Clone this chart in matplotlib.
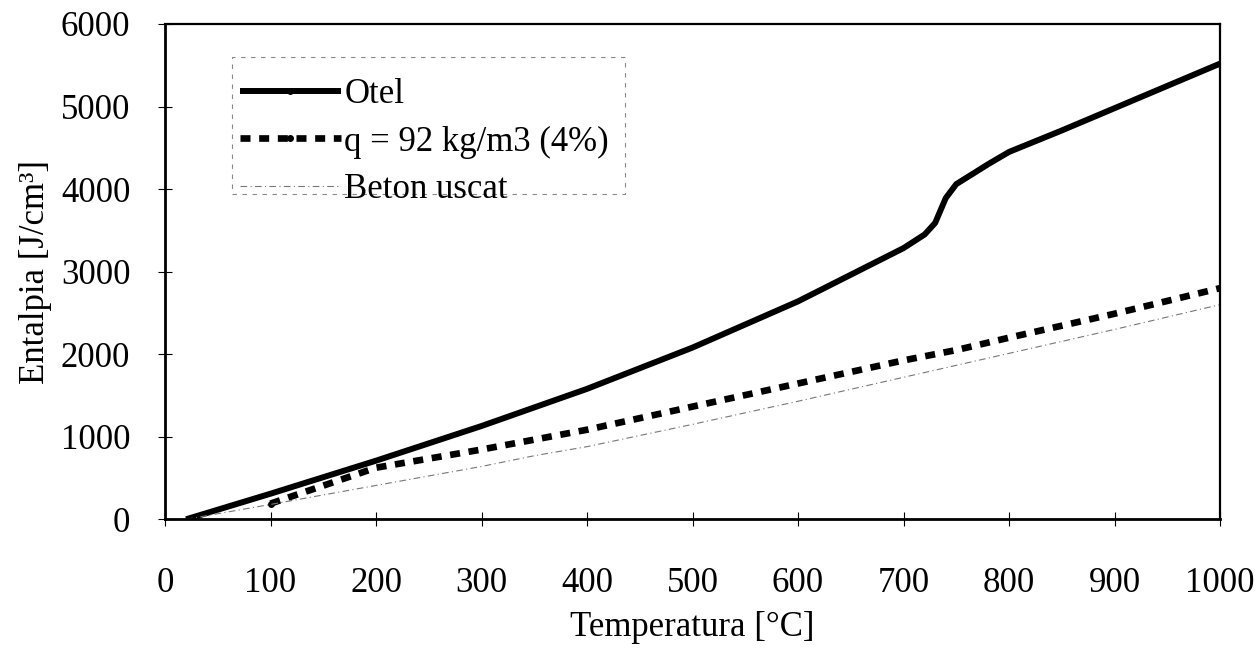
import matplotlib
matplotlib.use("Agg")
import matplotlib.pyplot as plt
from matplotlib.patches import Rectangle

# Data
t_otel = [20, 100, 200, 300, 400, 500, 600, 700, 720, 730, 740, 750, 765, 780, 800, 850, 900, 950, 1000]
h_otel = [0, 310, 710, 1130, 1580, 2080, 2640, 3285, 3450, 3590, 3890, 4060, 4180, 4300, 4450, 4710, 4980, 5250, 5520]

t_q = [100, 200, 300, 400, 500, 600, 700, 750, 800, 900, 1000]
h_q = [190, 625, 845, 1085, 1365, 1645, 1925, 2050, 2200, 2490, 2800]

t_beton = [20, 100, 200, 300, 350, 400, 500, 600, 700, 800, 900, 1000]
h_beton = [0, 180, 410, 640, 770, 880, 1150, 1430, 1720, 2010, 2300, 2600]

x_ticks = list(range(0, 1001, 100))
y_ticks = list(range(0, 6001, 1000))

labels = ["Otel", "q = 92 kg/m3 (4%)", "Beton uscat"]
xlabel = "Temperatura [°C]"
ylabel = "Entalpia [J/cm³]"

plt.rcParams['font.family'] = ['Liberation Serif', 'DejaVu Serif']
FS = 25

W, H = 1256, 648
fig = plt.figure(figsize=(W / 100, H / 100), dpi=100)
ax = fig.add_axes([165 / W, 1 - 519.3 / H, (1220 - 165) / W, (519.3 - 24) / H])

ax.plot(t_otel, h_otel, color='black', lw=4.3, solid_capstyle='butt',
        label=labels[0], marker='o', markersize=4, markevery=[len(t_otel) - 1])
ax.plot(t_q, h_q, color='black', lw=4.8, linestyle=(0, (1.5, 1.3)),
        label=labels[1], marker='o', markersize=4, markevery=[0, len(t_q) - 1])
ax.plot(t_beton, h_beton, color='#777777', lw=0.8, linestyle=(0, (6, 3, 1, 3)),
        label=labels[2])

ax.set_xlim(0, 1000)
ax.set_ylim(0, 6000)
ax.set_xticks(x_ticks)
ax.set_yticks(y_ticks)
ax.tick_params(axis='both', direction='inout', length=10, width=0.8,
               labelsize=FS, colors='black')
ax.tick_params(axis='x', pad=29)
ax.tick_params(axis='y', pad=20)

for side in ['left', 'bottom']:
    ax.spines[side].set_linewidth(2.0)
for side in ['top', 'right']:
    ax.spines[side].set_linewidth(1.6)

ax.set_xlabel(xlabel, fontsize=FS, labelpad=8)
ax.set_ylabel(ylabel, fontsize=FS, labelpad=6)

# legend without own frame; frame drawn as dashed rectangle
leg = ax.legend(loc='upper left', bbox_to_anchor=((240 - 165) / 1055, (519.3 - 78) / 495.3),
                fontsize=FS, handlelength=2.9, handletextpad=0.1, labelspacing=0.42,
                borderpad=0.0, borderaxespad=0.0, frameon=False)

x0 = (232 - 165) / 1055
x1 = (625 - 165) / 1055
y0 = (519.3 - 194) / 495.3
y1 = (519.3 - 57) / 495.3
ax.add_patch(Rectangle((x0, y0), x1 - x0, y1 - y0, transform=ax.transAxes,
                       fill=False, edgecolor='#888888', lw=0.8,
                       linestyle=(0, (4, 5)), zorder=5))

fig.savefig("out.png", dpi=100)
